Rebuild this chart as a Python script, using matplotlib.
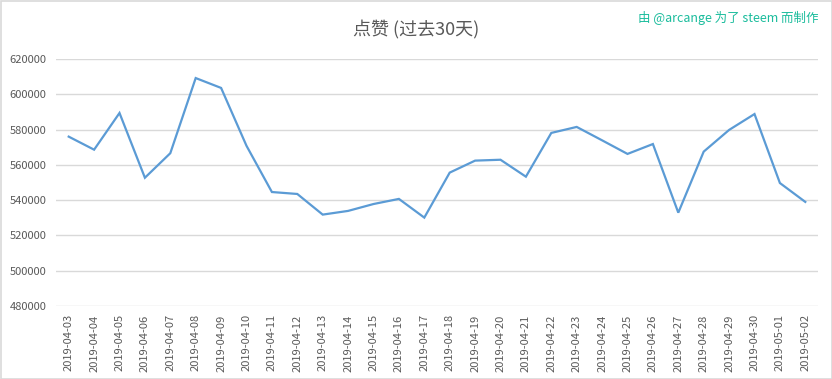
import matplotlib
matplotlib.use("Agg")
import matplotlib.pyplot as plt
from matplotlib.patches import Rectangle

plt.rcParams['font.family'] = ['Noto Sans CJK SC', 'DejaVu Sans']

dates = ["2019-04-03", "2019-04-04", "2019-04-05", "2019-04-06", "2019-04-07",
         "2019-04-08", "2019-04-09", "2019-04-10", "2019-04-11", "2019-04-12",
         "2019-04-13", "2019-04-14", "2019-04-15", "2019-04-16", "2019-04-17",
         "2019-04-18", "2019-04-19", "2019-04-20", "2019-04-21", "2019-04-22",
         "2019-04-23", "2019-04-24", "2019-04-25", "2019-04-26", "2019-04-27",
         "2019-04-28", "2019-04-29", "2019-04-30", "2019-05-01", "2019-05-02"]
votes = [576000, 568600, 589400, 552700, 566600, 609200, 603600, 570800, 544600, 543500,
         531800, 533900, 537800, 540700, 530100, 555600, 562400, 562900, 553300, 578100,
         581500, 573900, 566200, 571800, 532900, 567500, 579800, 588800, 549700, 539000]
yticks = [480000, 500000, 520000, 540000, 560000, 580000, 600000, 620000]

fig = plt.figure(figsize=(8.32, 3.79), dpi=100)
ax = fig.add_axes([56 / 832, 1 - 306 / 379, 762 / 832, 247 / 379])

x = list(range(len(dates)))
ax.plot(x, votes, color='#5b9bd5', linewidth=1.6, solid_joinstyle='miter')

ax.set_xlim(-0.5, len(dates) - 0.5)
ax.set_ylim(480000, 620000)
ax.set_yticks(yticks)
ax.set_yticklabels([str(v) for v in yticks])
ax.set_xticks(x)
ax.set_xticklabels(dates, rotation=90)
ax.tick_params(axis='both', length=0, labelsize=8, labelcolor='#595959')
ax.tick_params(axis='x', pad=6)
ax.tick_params(axis='y', pad=7)
ax.grid(axis='y', color='#d9d9d9', linewidth=1)
ax.set_axisbelow(True)
for s in ax.spines.values():
    s.set_visible(False)

fig.text(0.5, 1 - 30 / 379, "点赞 (过去30天)", ha='center', va='center',
         fontsize=13, color='#595959')
fig.text(819 / 832, 1 - 18 / 379, "由 @arcange 为了 steem 而制作", ha='right', va='center',
         fontsize=9, color='#1abc9c')

fig.patches.append(Rectangle((0.5 / 832, 0.5 / 379), 831 / 832, 378 / 379,
                             transform=fig.transFigure, fill=False,
                             edgecolor='#d9d9d9', linewidth=1.2))

fig.savefig("out.png", dpi=100)
